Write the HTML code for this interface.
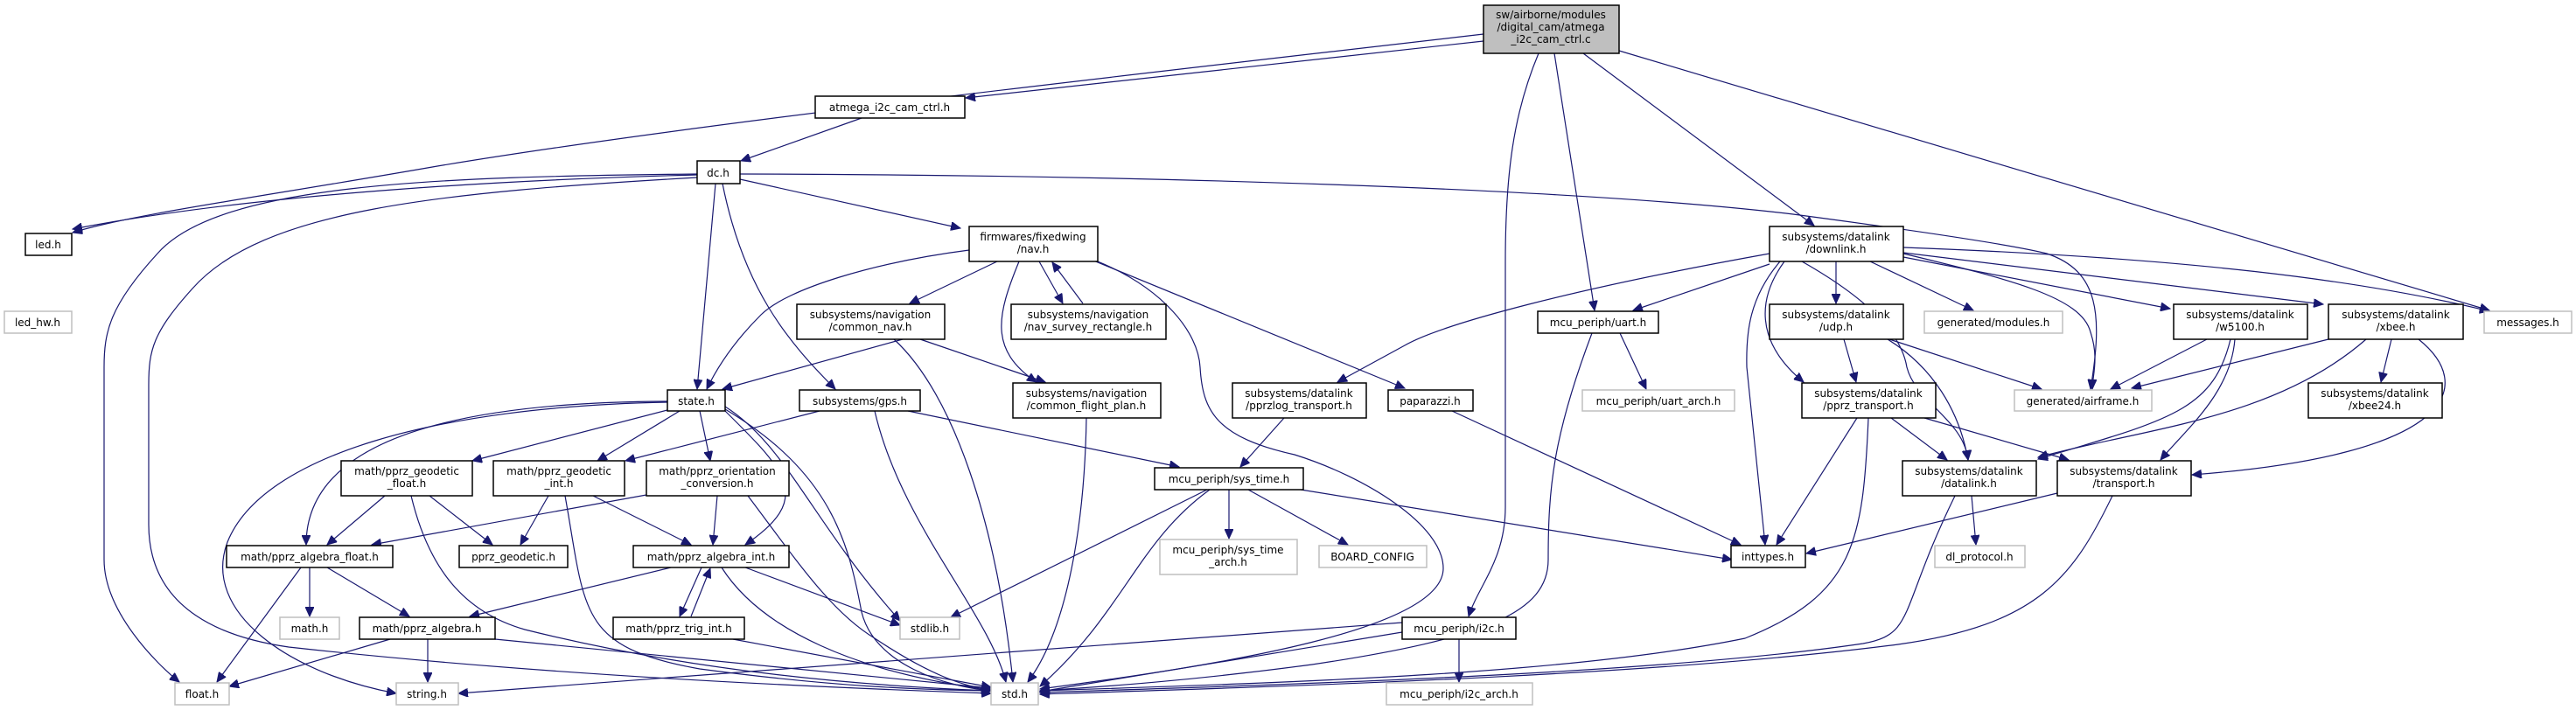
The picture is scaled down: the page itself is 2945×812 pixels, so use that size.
<!DOCTYPE html>
<html><head><meta charset="utf-8"><style>
html,body{margin:0;padding:0;background:#fff;}
svg{display:block;}
text{font-family:"DejaVu Sans","Liberation Sans",sans-serif;font-size:12px;fill:#000;text-anchor:middle;}
.n{fill:#fff;stroke:#000;stroke-width:1.5;}
.g{fill:#fff;stroke:#bfbfbf;stroke-width:1.5;}
.r{fill:#bfbfbf;stroke:#000;stroke-width:1.5;}
path{fill:none;stroke:#191970;stroke-width:1.2;}
</style></head><body>
<svg width="2945" height="812" viewBox="0 0 2945 812" xmlns="http://www.w3.org/2000/svg">
<defs><marker id="a" markerUnits="userSpaceOnUse" markerWidth="12" markerHeight="10" refX="11" refY="5" orient="auto"><path d="M0,0 L11,5 L0,10 Z" style="fill:#191970;stroke:#191970;stroke-width:1"/></marker></defs>
<g marker-end="url(#a)">
<path d="M1696,47 L1104,112"/>
<path d="M1696,39 C1300,85 800,140 500,190 C300,225 150,245 83,266"/>
<path d="M1759,61 C1730,130 1721,200 1721,300 L1721,580 C1721,640 1690,670 1679,705"/>
<path d="M1777,61 L1823,355"/>
<path d="M1810,61 L2074,258"/>
<path d="M1851,58 L2846,355"/>
<path d="M985,135 L847,184"/>
<path d="M797,200 C600,205 300,220 83,262"/>
<path d="M797,199 C500,202 250,210 180,290 C125,350 119,380 119,420 L119,640 C119,700 180,760 205,780"/>
<path d="M797,203 C500,220 300,240 220,330 C175,380 170,400 170,440 L170,600 C170,700 260,730 330,740 C600,770 900,785 1133,793"/>
<path d="M818,210 L797,445"/>
<path d="M826,210 C850,330 900,390 955,445"/>
<path d="M846,205 L1098,261"/>
<path d="M846,199 C1300,200 1800,215 2050,245 C2200,265 2300,280 2340,290 C2400,310 2404,360 2390,445"/>
<path d="M1108,286 C1000,300 900,330 870,360 C840,390 820,420 808,445"/>
<path d="M1140,299 L1040,347"/>
<path d="M1165,299 C1140,360 1130,400 1185,437"/>
<path d="M1188,299 L1215,347"/>
<path d="M1238,347 L1203,300"/>
<path d="M1255,299 C1330,330 1370,380 1372,420 C1375,470 1390,500 1480,520 C1560,545 1650,600 1650,650 C1650,720 1400,760 1189,788"/>
<path d="M1250,298 L1606,444"/>
<path d="M2023,290 C1800,330 1650,370 1606,395 L1529,437"/>
<path d="M2023,302 L1867,355"/>
<path d="M2035,299 C2000,340 1996,380 1997,420 L2018,623"/>
<path d="M2040,299 C2010,340 2005,390 2062,437"/>
<path d="M2060,299 C2150,350 2175,390 2180,420 C2190,460 2245,480 2250,526"/>
<path d="M2099,299 L2099,347"/>
<path d="M2138,299 L2256,355"/>
<path d="M2176,290 C2300,320 2380,340 2390,380 C2400,410 2392,430 2392,445"/>
<path d="M2176,294 L2481,353"/>
<path d="M2176,289 L2656,348"/>
<path d="M2176,283 C2500,295 2700,320 2846,356"/>
<path d="M2108,388 L2122,437"/>
<path d="M2158,388 C2210,420 2240,470 2250,526"/>
<path d="M2160,388 L2334,445"/>
<path d="M2523,388 L2413,445"/>
<path d="M2550,388 C2530,470 2480,480 2330,525"/>
<path d="M2555,388 C2550,450 2500,490 2470,526"/>
<path d="M2662,388 L2437,444"/>
<path d="M2705,388 C2600,480 2450,490 2330,523"/>
<path d="M2734,388 L2722,437"/>
<path d="M2765,388 C2830,440 2810,520 2506,543"/>
<path d="M2123,478 L2031,623"/>
<path d="M2162,478 L2226,526"/>
<path d="M2200,478 L2365,526"/>
<path d="M2136,478 C2130,620 2120,680 1995,730 C1800,770 1500,780 1189,790"/>
<path d="M2254,567 L2259,623"/>
<path d="M2235,567 C2170,700 2190,725 2130,736 C1900,770 1500,782 1189,792"/>
<path d="M2352,564 L2065,633"/>
<path d="M2415,567 C2370,660 2330,715 2170,737 C1900,772 1500,784 1189,794"/>
<path d="M1852,381 L1882,445"/>
<path d="M1820,381 C1775,500 1770,560 1770,640 C1770,700 1700,730 1500,760 C1350,780 1250,786 1189,790"/>
<path d="M1660,470 L1990,623"/>
<path d="M1487,560 L1980,640"/>
<path d="M1380,560 L1087,706"/>
<path d="M1383,560 C1300,620 1285,700 1189,785"/>
<path d="M1405,560 L1405,616"/>
<path d="M1427,560 L1541,623"/>
<path d="M1468,478 L1418,534"/>
<path d="M1038,470 L1348,534"/>
<path d="M937,470 L715,527"/>
<path d="M1000,470 C1030,600 1130,700 1150,780"/>
<path d="M1032,388 L826,445"/>
<path d="M1052,388 L1195,437"/>
<path d="M1022,388 C1090,450 1140,600 1158,780"/>
<path d="M1242,478 C1240,600 1220,720 1175,780"/>
<path d="M763,469 L540,527"/>
<path d="M777,470 L683,527"/>
<path d="M800,470 L812,527"/>
<path d="M829,470 C900,540 930,570 852,623"/>
<path d="M763,459 C500,460 350,510 350,623"/>
<path d="M763,460 C500,465 300,520 260,620 C230,700 330,770 453,793"/>
<path d="M829,468 C950,540 970,620 985,700 C1000,760 1080,785 1133,790"/>
<path d="M829,465 C900,510 930,600 1029,710"/>
<path d="M440,567 L374,623"/>
<path d="M491,567 L563,623"/>
<path d="M470,567 C490,650 530,700 600,720 C800,770 1000,785 1133,790"/>
<path d="M627,567 L595,623"/>
<path d="M678,567 L790,623"/>
<path d="M646,567 C670,700 660,740 800,765 C950,785 1050,789 1133,790"/>
<path d="M739,566 L425,623"/>
<path d="M820,567 L815,623"/>
<path d="M855,567 C910,640 950,700 1000,730 C1060,770 1100,785 1133,789"/>
<path d="M354,649 L354,705"/>
<path d="M374,649 L468,705"/>
<path d="M344,649 L248,780"/>
<path d="M767,649 L537,705"/>
<path d="M802,649 L777,705"/>
<path d="M790,705 L812,650"/>
<path d="M852,649 L1029,715"/>
<path d="M825,649 C870,720 980,770 1133,789"/>
<path d="M446,731 L262,785"/>
<path d="M489,731 L489,780"/>
<path d="M566,731 L1133,787"/>
<path d="M838,731 L1133,786"/>
<path d="M1603,723 L1189,791"/>
<path d="M1603,712 L524,793"/>
<path d="M1668,731 L1668,780"/>
</g>
<rect class="r" x="1696" y="6" width="155" height="55"/>
<text x="1773" y="21">sw/airborne/modules</text><text x="1773" y="35">/digital_cam/atmega</text><text x="1773" y="49">_i2c_cam_ctrl.c</text>
<rect class="n" x="932" y="110" width="171" height="25"/><text x="1017" y="127">atmega_i2c_cam_ctrl.h</text>
<rect class="n" x="797" y="184" width="49" height="26"/><text x="821" y="202">dc.h</text>
<rect class="n" x="29" y="267" width="53" height="25"/><text x="55" y="284">led.h</text>
<rect class="g" x="5" y="356" width="77" height="25"/><text x="43" y="373">led_hw.h</text>
<rect class="n" x="1108" y="259" width="147" height="40"/><text x="1181" y="275">firmwares/fixedwing</text><text x="1181" y="289">/nav.h</text>
<rect class="n" x="911" y="348" width="169" height="40"/><text x="995" y="364">subsystems/navigation</text><text x="995" y="378">/common_nav.h</text>
<rect class="n" x="1156" y="348" width="177" height="40"/><text x="1244" y="364">subsystems/navigation</text><text x="1244" y="378">/nav_survey_rectangle.h</text>
<rect class="n" x="1758" y="356" width="138" height="25"/><text x="1827" y="373">mcu_periph/uart.h</text>
<rect class="n" x="2023" y="259" width="153" height="40"/><text x="2099" y="275">subsystems/datalink</text><text x="2099" y="289">/downlink.h</text>
<rect class="n" x="2023" y="348" width="153" height="40"/><text x="2099" y="364">subsystems/datalink</text><text x="2099" y="378">/udp.h</text>
<rect class="g" x="2200" y="356" width="158" height="25"/><text x="2279" y="373">generated/modules.h</text>
<rect class="n" x="2485" y="348" width="153" height="40"/><text x="2561" y="364">subsystems/datalink</text><text x="2561" y="378">/w5100.h</text>
<rect class="n" x="2662" y="348" width="154" height="40"/><text x="2739" y="364">subsystems/datalink</text><text x="2739" y="378">/xbee.h</text>
<rect class="g" x="2840" y="356" width="100" height="25"/><text x="2890" y="373">messages.h</text>
<rect class="n" x="763" y="446" width="66" height="24"/><text x="796" y="463">state.h</text>
<rect class="n" x="914" y="446" width="138" height="24"/><text x="983" y="463">subsystems/gps.h</text>
<rect class="n" x="1158" y="438" width="169" height="40"/><text x="1242" y="454">subsystems/navigation</text><text x="1242" y="468">/common_flight_plan.h</text>
<rect class="n" x="1409" y="438" width="153" height="40"/><text x="1485" y="454">subsystems/datalink</text><text x="1485" y="468">/pprzlog_transport.h</text>
<rect class="n" x="1587" y="446" width="97" height="24"/><text x="1635" y="463">paparazzi.h</text>
<rect class="g" x="1809" y="446" width="174" height="24"/><text x="1896" y="463">mcu_periph/uart_arch.h</text>
<rect class="n" x="2060" y="438" width="153" height="40"/><text x="2136" y="454">subsystems/datalink</text><text x="2136" y="468">/pprz_transport.h</text>
<rect class="g" x="2303" y="446" width="157" height="24"/><text x="2381" y="463">generated/airframe.h</text>
<rect class="n" x="2639" y="438" width="153" height="40"/><text x="2715" y="454">subsystems/datalink</text><text x="2715" y="468">/xbee24.h</text>
<rect class="n" x="390" y="527" width="150" height="40"/><text x="465" y="543">math/pprz_geodetic</text><text x="465" y="557">_float.h</text>
<rect class="n" x="564" y="527" width="150" height="40"/><text x="639" y="543">math/pprz_geodetic</text><text x="639" y="557">_int.h</text>
<rect class="n" x="739" y="527" width="163" height="40"/><text x="820" y="543">math/pprz_orientation</text><text x="820" y="557">_conversion.h</text>
<rect class="n" x="1320" y="535" width="170" height="25"/><text x="1405" y="552">mcu_periph/sys_time.h</text>
<rect class="n" x="2175" y="527" width="153" height="40"/><text x="2251" y="543">subsystems/datalink</text><text x="2251" y="557">/datalink.h</text>
<rect class="n" x="2352" y="527" width="153" height="40"/><text x="2428" y="543">subsystems/datalink</text><text x="2428" y="557">/transport.h</text>
<rect class="n" x="259" y="624" width="190" height="25"/><text x="354" y="641">math/pprz_algebra_float.h</text>
<rect class="n" x="525" y="624" width="124" height="25"/><text x="587" y="641">pprz_geodetic.h</text>
<rect class="n" x="724" y="624" width="178" height="25"/><text x="813" y="641">math/pprz_algebra_int.h</text>
<rect class="g" x="1326" y="617" width="157" height="40"/><text x="1404" y="633">mcu_periph/sys_time</text><text x="1404" y="647">_arch.h</text>
<rect class="g" x="1508" y="624" width="123" height="25"/><text x="1569" y="641">BOARD_CONFIG</text>
<rect class="n" x="1979" y="624" width="85" height="25"/><text x="2021" y="641">inttypes.h</text>
<rect class="g" x="2212" y="624" width="103" height="25"/><text x="2263" y="641">dl_protocol.h</text>
<rect class="g" x="320" y="706" width="68" height="25"/><text x="354" y="723">math.h</text>
<rect class="n" x="411" y="706" width="155" height="25"/><text x="488" y="723">math/pprz_algebra.h</text>
<rect class="n" x="701" y="706" width="150" height="25"/><text x="776" y="723">math/pprz_trig_int.h</text>
<rect class="g" x="1029" y="706" width="68" height="25"/><text x="1063" y="723">stdlib.h</text>
<rect class="n" x="1603" y="706" width="130" height="25"/><text x="1668" y="723">mcu_periph/i2c.h</text>
<rect class="g" x="200" y="781" width="62" height="25"/><text x="231" y="798">float.h</text>
<rect class="g" x="453" y="781" width="71" height="25"/><text x="488" y="798">string.h</text>
<rect class="g" x="1133" y="781" width="54" height="25"/><text x="1160" y="798">std.h</text>
<rect class="g" x="1585" y="781" width="167" height="25"/><text x="1668" y="798">mcu_periph/i2c_arch.h</text>
</svg>
</body></html>
